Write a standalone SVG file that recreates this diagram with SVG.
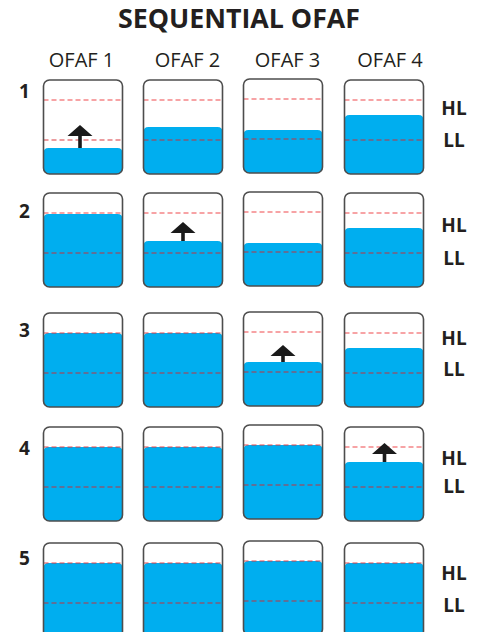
<svg xmlns="http://www.w3.org/2000/svg" width="477" height="632" viewBox="0 0 477 632">
<defs>
<style>
.t{font-family:"Open Sans","Liberation Sans",sans-serif;fill:#231f20}
.title{font-size:26px;font-weight:bold}
.hd{font-size:20px}
.rl{font-size:19px;font-weight:bold}
.lv{font-size:19px;font-weight:bold}
.box{fill:none;stroke:#4d4d4d;stroke-width:1.6}
.w{fill:#00aeef}
.hl{stroke:#ee2a2f;stroke-width:1.2;stroke-dasharray:5 3;opacity:0.85}
.ll{stroke:#d5262c;stroke-width:1.2;stroke-dasharray:5 3;opacity:0.9}
.ar{fill:#1a1a1a}
</style>
</defs>
<rect width="477" height="632" fill="#ffffff"/>
<text class="t title" x="239" y="28" text-anchor="middle" textLength="242" lengthAdjust="spacingAndGlyphs">SEQUENTIAL OFAF</text>
<text class="t hd" x="81.5" y="67" text-anchor="middle">OFAF 1</text>
<text class="t hd" x="187.5" y="67" text-anchor="middle">OFAF 2</text>
<text class="t hd" x="287.5" y="67" text-anchor="middle">OFAF 3</text>
<text class="t hd" x="390" y="67" text-anchor="middle">OFAF 4</text>

<g id="row-labels">
<text class="t rl" x="19" y="98">1</text>
<text class="t rl" x="19" y="218">2</text>
<text class="t rl" x="19" y="337">3</text>
<text class="t rl" x="19" y="455">4</text>
<text class="t rl" x="19" y="565">5</text>
</g>
<g id="level-labels">
<text class="t lv" x="454" y="115" text-anchor="middle">HL</text>
<text class="t lv" x="454" y="147" text-anchor="middle">LL</text>
<text class="t lv" x="454" y="232" text-anchor="middle">HL</text>
<text class="t lv" x="454" y="265" text-anchor="middle">LL</text>
<text class="t lv" x="454" y="345" text-anchor="middle">HL</text>
<text class="t lv" x="454" y="376" text-anchor="middle">LL</text>
<text class="t lv" x="454" y="465" text-anchor="middle">HL</text>
<text class="t lv" x="454" y="493" text-anchor="middle">LL</text>
<text class="t lv" x="454" y="580" text-anchor="middle">HL</text>
<text class="t lv" x="454" y="612" text-anchor="middle">LL</text>
</g>

<!-- Row 1 (y0=80) -->
<g id="r1c1">
<path class="w" d="M43.5,153 Q43.5,148 48.5,148 H117.5 Q122.5,148 122.5,153 V168 Q122.5,174 116.5,174 H49.5 Q43.5,174 43.5,168 Z"/>
<line class="hl" x1="43.5" y1="100" x2="122.5" y2="100"/>
<line class="ll" x1="43.5" y1="140" x2="122.5" y2="140"/>
<rect class="box" x="43.5" y="80" width="79" height="94" rx="6"/>
<path class="ar" d="M80,125 L92.5,136 H81.8 V148 H78.2 V136 H67.5 Z"/>
</g>
<g id="r1c2">
<path class="w" d="M143.5,132 Q143.5,127 148.5,127 H217.5 Q222.5,127 222.5,132 V168 Q222.5,174 216.5,174 H149.5 Q143.5,174 143.5,168 Z"/>
<line class="hl" x1="143.5" y1="100" x2="222.5" y2="100"/>
<line class="ll" x1="143.5" y1="140" x2="222.5" y2="140"/>
<rect class="box" x="143.5" y="80" width="79" height="94" rx="6"/>
</g>
<g id="r1c3">
<path class="w" d="M243.5,135 Q243.5,130 248.5,130 H317.5 Q322.5,130 322.5,135 V167 Q322.5,173 316.5,173 H249.5 Q243.5,173 243.5,167 Z"/>
<line class="hl" x1="243.5" y1="99" x2="322.5" y2="99"/>
<line class="ll" x1="243.5" y1="139" x2="322.5" y2="139"/>
<rect class="box" x="243.5" y="79" width="79" height="94" rx="6"/>
</g>
<g id="r1c4">
<path class="w" d="M344.5,120 Q344.5,115 349.5,115 H418.5 Q423.5,115 423.5,120 V168 Q423.5,174 417.5,174 H350.5 Q344.5,174 344.5,168 Z"/>
<line class="hl" x1="344.5" y1="100" x2="423.5" y2="100"/>
<line class="ll" x1="344.5" y1="140" x2="423.5" y2="140"/>
<rect class="box" x="344.5" y="80" width="79" height="94" rx="6"/>
</g>

<!-- Row 2 (y0=193) -->
<g id="r2c1">
<path class="w" d="M43.5,219 Q43.5,214 48.5,214 H117.5 Q122.5,214 122.5,219 V281 Q122.5,287 116.5,287 H49.5 Q43.5,287 43.5,281 Z"/>
<line class="hl" x1="43.5" y1="213" x2="122.5" y2="213"/>
<line class="ll" x1="43.5" y1="253" x2="122.5" y2="253"/>
<rect class="box" x="43.5" y="193" width="79" height="94" rx="6"/>
</g>
<g id="r2c2">
<path class="w" d="M143.5,246 Q143.5,241 148.5,241 H217.5 Q222.5,241 222.5,246 V281 Q222.5,287 216.5,287 H149.5 Q143.5,287 143.5,281 Z"/>
<line class="hl" x1="143.5" y1="213" x2="222.5" y2="213"/>
<line class="ll" x1="143.5" y1="253" x2="222.5" y2="253"/>
<rect class="box" x="143.5" y="193" width="79" height="94" rx="6"/>
<path class="ar" d="M183,222 L195.5,233 H184.8 V241 H181.2 V233 H170.5 Z"/>
</g>
<g id="r2c3">
<path class="w" d="M243.5,248 Q243.5,243 248.5,243 H317.5 Q322.5,243 322.5,248 V280 Q322.5,286 316.5,286 H249.5 Q243.5,286 243.5,280 Z"/>
<line class="hl" x1="243.5" y1="212" x2="322.5" y2="212"/>
<line class="ll" x1="243.5" y1="252" x2="322.5" y2="252"/>
<rect class="box" x="243.5" y="192" width="79" height="94" rx="6"/>
</g>
<g id="r2c4">
<path class="w" d="M344.5,233 Q344.5,228 349.5,228 H418.5 Q423.5,228 423.5,233 V281 Q423.5,287 417.5,287 H350.5 Q344.5,287 344.5,281 Z"/>
<line class="hl" x1="344.5" y1="213" x2="423.5" y2="213"/>
<line class="ll" x1="344.5" y1="253" x2="423.5" y2="253"/>
<rect class="box" x="344.5" y="193" width="79" height="94" rx="6"/>
</g>

<!-- Row 3 (y0=313) -->
<g id="r3c1">
<path class="w" d="M43.5,338 Q43.5,333 48.5,333 H117.5 Q122.5,333 122.5,338 V401 Q122.5,407 116.5,407 H49.5 Q43.5,407 43.5,401 Z"/>
<line class="hl" x1="43.5" y1="333" x2="122.5" y2="333"/>
<line class="ll" x1="43.5" y1="373" x2="122.5" y2="373"/>
<rect class="box" x="43.5" y="313" width="79" height="94" rx="6"/>
</g>
<g id="r3c2">
<path class="w" d="M143.5,338 Q143.5,333 148.5,333 H217.5 Q222.5,333 222.5,338 V401 Q222.5,407 216.5,407 H149.5 Q143.5,407 143.5,401 Z"/>
<line class="hl" x1="143.5" y1="333" x2="222.5" y2="333"/>
<line class="ll" x1="143.5" y1="373" x2="222.5" y2="373"/>
<rect class="box" x="143.5" y="313" width="79" height="94" rx="6"/>
</g>
<g id="r3c3">
<path class="w" d="M243.5,367 Q243.5,362 248.5,362 H317.5 Q322.5,362 322.5,367 V400 Q322.5,406 316.5,406 H249.5 Q243.5,406 243.5,400 Z"/>
<line class="hl" x1="243.5" y1="332" x2="322.5" y2="332"/>
<line class="ll" x1="243.5" y1="372" x2="322.5" y2="372"/>
<rect class="box" x="243.5" y="312" width="79" height="94" rx="6"/>
<path class="ar" d="M283,345 L295.5,356 H284.8 V362 H281.2 V356 H270.5 Z"/>
</g>
<g id="r3c4">
<path class="w" d="M344.5,353 Q344.5,348 349.5,348 H418.5 Q423.5,348 423.5,353 V401 Q423.5,407 417.5,407 H350.5 Q344.5,407 344.5,401 Z"/>
<line class="hl" x1="344.5" y1="333" x2="423.5" y2="333"/>
<line class="ll" x1="344.5" y1="373" x2="423.5" y2="373"/>
<rect class="box" x="344.5" y="313" width="79" height="94" rx="6"/>
</g>

<!-- Row 4 (y0=427) -->
<g id="r4c1">
<path class="w" d="M43.5,452 Q43.5,447 48.5,447 H117.5 Q122.5,447 122.5,452 V515 Q122.5,521 116.5,521 H49.5 Q43.5,521 43.5,515 Z"/>
<line class="hl" x1="43.5" y1="447" x2="122.5" y2="447"/>
<line class="ll" x1="43.5" y1="487" x2="122.5" y2="487"/>
<rect class="box" x="43.5" y="427" width="79" height="94" rx="6"/>
</g>
<g id="r4c2">
<path class="w" d="M143.5,452 Q143.5,447 148.5,447 H217.5 Q222.5,447 222.5,452 V515 Q222.5,521 216.5,521 H149.5 Q143.5,521 143.5,515 Z"/>
<line class="hl" x1="143.5" y1="447" x2="222.5" y2="447"/>
<line class="ll" x1="143.5" y1="487" x2="222.5" y2="487"/>
<rect class="box" x="143.5" y="427" width="79" height="94" rx="6"/>
</g>
<g id="r4c3">
<path class="w" d="M243.5,450 Q243.5,445 248.5,445 H317.5 Q322.5,445 322.5,450 V513 Q322.5,519 316.5,519 H249.5 Q243.5,519 243.5,513 Z"/>
<line class="hl" x1="243.5" y1="445" x2="322.5" y2="445"/>
<line class="ll" x1="243.5" y1="485" x2="322.5" y2="485"/>
<rect class="box" x="243.5" y="425" width="79" height="94" rx="6"/>
</g>
<g id="r4c4">
<path class="w" d="M344.5,467 Q344.5,462 349.5,462 H418.5 Q423.5,462 423.5,467 V515 Q423.5,521 417.5,521 H350.5 Q344.5,521 344.5,515 Z"/>
<line class="hl" x1="344.5" y1="447" x2="423.5" y2="447"/>
<line class="ll" x1="344.5" y1="487" x2="423.5" y2="487"/>
<rect class="box" x="344.5" y="427" width="79" height="94" rx="6"/>
<path class="ar" d="M384.5,443 L397,454 H386.3 V462 H382.7 V454 H372 Z"/>
</g>

<!-- Row 5 (y0=543) -->
<g id="r5c1">
<path class="w" d="M43.5,568 Q43.5,563 48.5,563 H117.5 Q122.5,563 122.5,568 V631 Q122.5,637 116.5,637 H49.5 Q43.5,637 43.5,631 Z"/>
<line class="hl" x1="43.5" y1="563" x2="122.5" y2="563"/>
<line class="ll" x1="43.5" y1="603" x2="122.5" y2="603"/>
<rect class="box" x="43.5" y="543" width="79" height="94" rx="6"/>
</g>
<g id="r5c2">
<path class="w" d="M143.5,568 Q143.5,563 148.5,563 H217.5 Q222.5,563 222.5,568 V631 Q222.5,637 216.5,637 H149.5 Q143.5,637 143.5,631 Z"/>
<line class="hl" x1="143.5" y1="563" x2="222.5" y2="563"/>
<line class="ll" x1="143.5" y1="603" x2="222.5" y2="603"/>
<rect class="box" x="143.5" y="543" width="79" height="94" rx="6"/>
</g>
<g id="r5c3">
<path class="w" d="M243.5,566 Q243.5,561 248.5,561 H317.5 Q322.5,561 322.5,566 V629 Q322.5,635 316.5,635 H249.5 Q243.5,635 243.5,629 Z"/>
<line class="hl" x1="243.5" y1="561" x2="322.5" y2="561"/>
<line class="ll" x1="243.5" y1="601" x2="322.5" y2="601"/>
<rect class="box" x="243.5" y="541" width="79" height="94" rx="6"/>
</g>
<g id="r5c4">
<path class="w" d="M344.5,568 Q344.5,563 349.5,563 H418.5 Q423.5,563 423.5,568 V631 Q423.5,637 417.5,637 H350.5 Q344.5,637 344.5,631 Z"/>
<line class="hl" x1="344.5" y1="563" x2="423.5" y2="563"/>
<line class="ll" x1="344.5" y1="603" x2="423.5" y2="603"/>
<rect class="box" x="344.5" y="543" width="79" height="94" rx="6"/>
</g>
<g id="connectors"/>
</svg>
